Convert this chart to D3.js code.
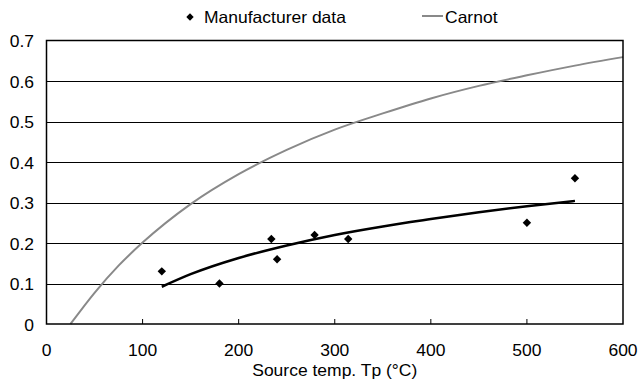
<!DOCTYPE html>
<html>
<head>
<meta charset="utf-8">
<script src="https://cdn.jsdelivr.net/npm/d3@7"></script>
<style>
  body { margin: 0; background: #fff; }
  svg text { font-family: "Liberation Sans", Arial, sans-serif; font-size: 16.5px; fill: #000; }
</style>
</head>
<body>
<div id="chart"></div>
<script>
// Manufacturer data points (source temp °C, efficiency)
var dataTemp = [120, 180, 234, 240, 279, 314, 500, 550];
var dataEff  = [0.13, 0.10, 0.21, 0.16, 0.22, 0.21, 0.25, 0.36];

// Trend line through the data
var trendTemp = [120, 150, 200, 250, 300, 350, 400, 450, 500, 550];
var trendEff  = [0.092, 0.123, 0.163, 0.194, 0.220, 0.241, 0.259, 0.276, 0.291, 0.304];

// Carnot curve
var carnotTemp = [25, 50, 75, 100, 150, 200, 250, 300, 350, 400, 450, 500, 550, 600];
var carnotEff  = [0, 0.077, 0.144, 0.201, 0.296, 0.370, 0.430, 0.480, 0.520, 0.557, 0.588, 0.614, 0.638, 0.659];

var xTicks = [0, 100, 200, 300, 400, 500, 600];
var yTicks = [0, 0.1, 0.2, 0.3, 0.4, 0.5, 0.6, 0.7];

var width = 639, height = 383;
var margin = { left: 46.5, right: 16, top: 40.5, bottom: 59 };

var svg = d3.select('#chart').append('svg')
  .attr('width', width)
  .attr('height', height);

var x = d3.scaleLinear().domain([0, 600]).range([margin.left, width - margin.right]);
var y = d3.scaleLinear().domain([0, 0.7]).range([height - margin.bottom, margin.top]);

// text in the original is slightly wide
function place(px, py) { return 'translate(' + px + ',' + py + ') scale(1.06,1)'; }

// gridlines
svg.append('g')
  .selectAll('line')
  .data(yTicks.filter(d => d > 0 && d < 0.7))
  .join('line')
    .attr('x1', x(0)).attr('x2', x(600))
    .attr('y1', d => Math.round(y(d)) + 0.5).attr('y2', d => Math.round(y(d)) + 0.5)
    .attr('stroke', '#000').attr('stroke-width', 1.2);

// y labels
svg.append('g')
  .selectAll('text')
  .data(yTicks)
  .join('text')
    .attr('transform', d => place(34, y(d) + 6.5))
    .attr('text-anchor', 'end')
    .text(d => d === 0 ? '0' : d.toFixed(1));

// x ticks (inside) and labels
svg.append('g')
  .selectAll('line')
  .data(xTicks.filter(d => d > 0 && d < 600))
  .join('line')
    .attr('x1', d => x(d)).attr('x2', d => x(d))
    .attr('y1', y(0)).attr('y2', y(0) - 5)
    .attr('stroke', '#000');

svg.append('g')
  .selectAll('text')
  .data(xTicks)
  .join('text')
    .attr('transform', d => place(x(d), y(0) + 32))
    .attr('text-anchor', 'middle')
    .text(d => d);

svg.append('text')
  .attr('transform', place(x(300), y(0) + 52))
  .attr('text-anchor', 'middle')
  .text('Source temp. Tp (°C)');

// Carnot curve
var carnot = carnotTemp.map((t, i) => [t, carnotEff[i]]);
svg.append('path')
  .datum(carnot)
  .attr('fill', 'none')
  .attr('stroke', '#898989')
  .attr('stroke-width', 2)
  .attr('d', d3.line().x(d => x(d[0])).y(d => y(d[1])).curve(d3.curveMonotoneX));

// trend line
var trend = trendTemp.map((t, i) => [t, trendEff[i]]);
svg.append('path')
  .datum(trend)
  .attr('fill', 'none')
  .attr('stroke', '#000')
  .attr('stroke-width', 2.5)
  .attr('d', d3.line().x(d => x(d[0])).y(d => y(d[1])).curve(d3.curveMonotoneX));

// data points
var diamond = d3.symbol().type(d3.symbolDiamond2).size(45);
svg.append('g')
  .selectAll('path')
  .data(dataTemp.map((t, i) => [t, dataEff[i]]))
  .join('path')
    .attr('transform', d => 'translate(' + x(d[0]) + ',' + y(d[1]) + ')')
    .attr('d', diamond)
    .attr('fill', '#000');

// frame
svg.append('rect')
  .attr('x', x(0)).attr('y', y(0.7))
  .attr('width', x(600) - x(0)).attr('height', y(0) - y(0.7))
  .attr('fill', 'none').attr('stroke', '#000').attr('stroke-width', 1.5);

// legend
var legend = svg.append('g');
legend.append('path')
  .attr('transform', 'translate(190,17)')
  .attr('d', d3.symbol().type(d3.symbolDiamond2).size(35))
  .attr('fill', '#000');
legend.append('text').attr('transform', place(204, 23)).text('Manufacturer data');
legend.append('line')
  .attr('x1', 422).attr('x2', 443).attr('y1', 16).attr('y2', 16)
  .attr('stroke', '#898989').attr('stroke-width', 2);
legend.append('text').attr('transform', place(445, 23)).text('Carnot');
</script>
</body>
</html>
